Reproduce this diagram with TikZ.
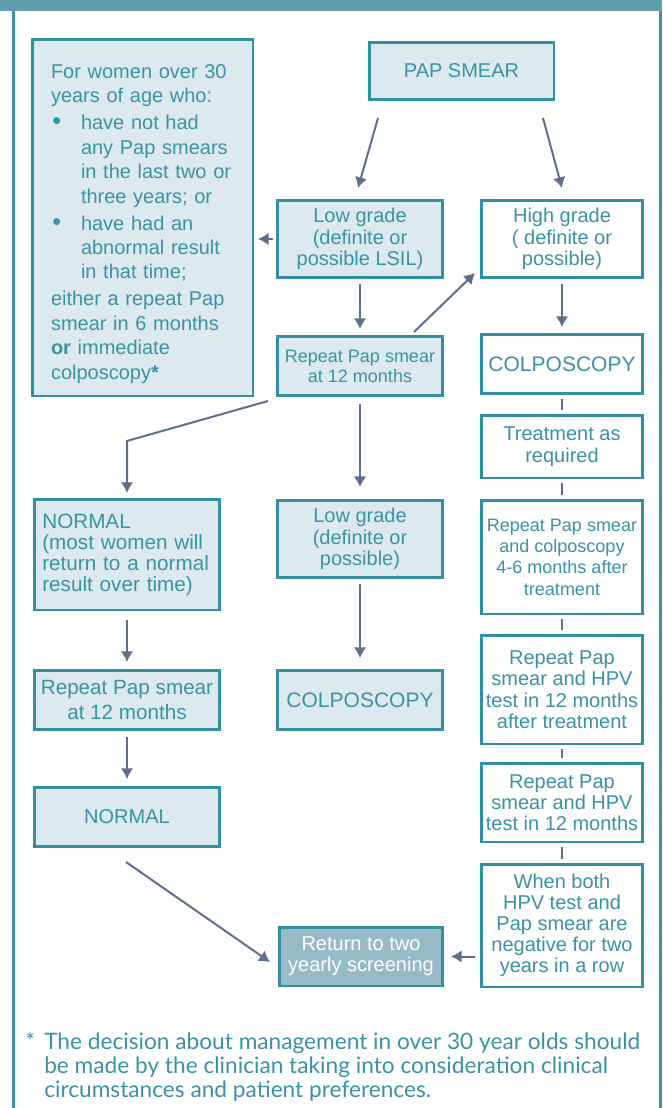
\documentclass[tikz,border=0pt]{standalone}
\usepackage{fontspec}
\setmainfont{Liberation Sans}
\newfontfamily\notefont{Lato}
\usetikzlibrary{positioning}
\usetikzlibrary{arrows.meta}
\definecolor{band}{HTML}{5F9DAD}
\definecolor{frameline}{HTML}{3D92A3}
\definecolor{boxline}{HTML}{3390A2}
\definecolor{boxfill}{HTML}{DCE9EE}
\definecolor{boxtext}{HTML}{3A93A5}
\definecolor{arrowcol}{HTML}{5E6E8F}
\definecolor{retfill}{HTML}{98BAC6}
\newcommand{\bigdot}{\makebox[22.5pt][l]{\hspace{1pt}{\fontsize{19}{18}\selectfont\textbullet}}}

\begin{document}
\begin{tikzpicture}[x=0.75pt, y=-0.75pt,
	box/.style={draw=boxline, fill=boxfill, line width=1.9pt, text=boxtext, align=center, inner sep=0pt, font=\fontsize{15}{16}\selectfont},
	midbox/.style={box, minimum width=124.1pt},
	leftbox/.style={box, minimum width=139.1pt},
	rightbox/.style={box, fill=white, minimum width=121.1pt},
	arr/.style={draw=arrowcol, line width=1.5pt, -{Latex[length=8pt,width=9.5pt]}},
	tick/.style={draw=arrowcol, line width=1.8pt, shorten <=3pt, shorten >=3pt}]
		\useasboundingbox (0,0) rectangle (662,1108);
		\fill[band] (0,0) rectangle (662,11);
		\draw[frameline, line width=2.25pt] (13.7,11) -- (13.7,1108);
		\draw[frameline, line width=2.25pt] (660,11) -- (660,1108);

		\node[box, minimum width=165.4pt, minimum height=267.4pt, text width=137.25pt, align=left, font=\fontsize{15}{18.3}\selectfont] (who) at (142.5,217.5) {\rule{0pt}{20pt}For women over 30\\
			years of age who:\\[2pt]
			\bigdot have not had\\
			\hspace*{22.5pt}any Pap smears\\
			\hspace*{22.5pt}in the last two or\\
			\hspace*{22.5pt}three years; or\\[2pt]
			\bigdot have had an\\
			\hspace*{22.5pt}abnormal result\\
			\hspace*{22.5pt}in that time;\\[2pt]
			either a repeat Pap\\
			smear in 6 months\\
			\textbf{or} immediate\\
			colposcopy\textbf{*}};
		\node[box, minimum width=138.4pt, minimum height=43.1pt] (pap) at (461.5,71) {PAP SMEAR};
		\node[midbox, minimum height=58.1pt] (low) at (360,239) {Low grade\\(definite or\\possible LSIL)};
		\node[rightbox, minimum height=58.1pt] (high) at (562,239) {High grade\\( definite or\\possible)};
		\node[midbox, minimum height=44.6pt, font=\fontsize{13.5}{15}\selectfont] (rep12) at (360,366) {Repeat Pap smear\\at 12 months};
		\node[rightbox, minimum height=44.6pt, font=\fontsize{15.75}{17}\selectfont] (colpR) at (562,364) {COLPOSCOPY};
		\node[rightbox, minimum height=46.9pt, below=14.25pt of colpR, font=\fontsize{15}{16.5}\selectfont] (treat) {Treatment as\\required};
		\node[rightbox, minimum height=85.1pt, below=15pt of treat, font=\fontsize{13.5}{16}\selectfont] (repcol) {Repeat Pap smear\\and colposcopy\\4-6 months after\\treatment};
		\node[rightbox, minimum height=81.4pt, below=14.25pt of repcol] (rephpvA) {Repeat Pap\\smear and HPV\\test in 12 months\\after treatment};
		\node[rightbox, minimum height=58.9pt, below=12.75pt of rephpvA] (rephpvB) {Repeat Pap\\smear and HPV\\test in 12 months};
		\node[rightbox, minimum height=91.9pt, below=15pt of rephpvB, font=\fontsize{15}{15.75}\selectfont] (both) {When both\\HPV test and\\Pap smear are\\negative for two\\years in a row};
		\node[leftbox, minimum height=82.9pt, text width=127pt, align=left, font=\fontsize{15.5}{15.75}\selectfont] (normalA) at (127,554.5) {NORMAL\\(most women will\\return to a normal\\result over time)};
		\node[leftbox, minimum height=44.6pt, font=\fontsize{15.5}{18.5}\selectfont] (repL) at (127,700) {Repeat Pap smear\\at 12 months};
		\node[leftbox, minimum height=44.6pt] (normalB) at (127,817) {NORMAL};
		\node[midbox, minimum height=58.1pt] (lowmid) at (360,539) {Low grade\\(definite or\\possible)};
		\node[midbox, minimum height=44.6pt, font=\fontsize{15.75}{17}\selectfont] (colpM) at (360,700) {COLPOSCOPY};
		\node[box, fill=retfill, text=white, minimum width=122.6pt, minimum height=43.9pt] (ret) at (361,956.5) {Return to two\\yearly screening};
		\node[anchor=north west, align=left, inner sep=0pt, text=boxtext, font=\notefont\fontsize{17}{17.9}\selectfont] (note) at (25,1032) {\makebox[14.25pt][l]{*}The decision about management in over 30 year olds should\\
			\hspace*{14.25pt}be made by the clinician taking into consideration clinical\\
			\hspace*{14.25pt}circumstances and patient preferences.};

		\draw[arr] ([shift={(-83.5,17)}]pap.south) -- ([shift={(-2,-11)}]low.north);
		\draw[arr] ([shift={(81.5,17)}]pap.south) -- ([shift={(0,-11)}]high.north);
		\draw[arr, shorten <=2.25pt, shorten >=3pt] (low.west) -- (low.west -| who.east);
		\draw[arr, shorten <=3.75pt, shorten >=4.5pt] (low) -- (rep12);
		\draw[arr, shorten <=3.75pt, shorten >=4.5pt] (high) -- (colpR);
		\draw[arr] ([shift={(-30,-3)}]rep12.north east) -- ([shift={(-5,-6)}]high.south west);
		\draw[arr] ([shift={(-8,4)}]rep12.south west) -- ([shift={(0,-57)}]normalA.north) -- ([shift={(0,-5)}]normalA.north);
		\draw[arr, shorten <=5.25pt, shorten >=9pt] (rep12) -- (lowmid);
		\draw[arr, shorten <=3.75pt, shorten >=8.25pt] (lowmid) -- (colpM);
		\draw[arr, shorten <=6.75pt, shorten >=5.25pt] (normalA) -- (repL);
		\draw[arr, shorten <=4.5pt, shorten >=5.25pt] (repL) -- (normalB);
		\draw[arr] ([shift={(-1,14)}]normalB.south) -- ([shift={(-8,5.5)}]ret.west);
		\draw[arr, shorten <=3.75pt, shorten >=5.25pt] (ret.east -| both.west) -- (ret.east);
		\draw[tick] (colpR) -- (treat);
		\draw[tick] (treat) -- (repcol);
		\draw[tick] (repcol) -- (rephpvA);
		\draw[tick] (rephpvA) -- (rephpvB);
		\draw[tick] (rephpvB) -- (both);
		\end{tikzpicture}
\end{document}
